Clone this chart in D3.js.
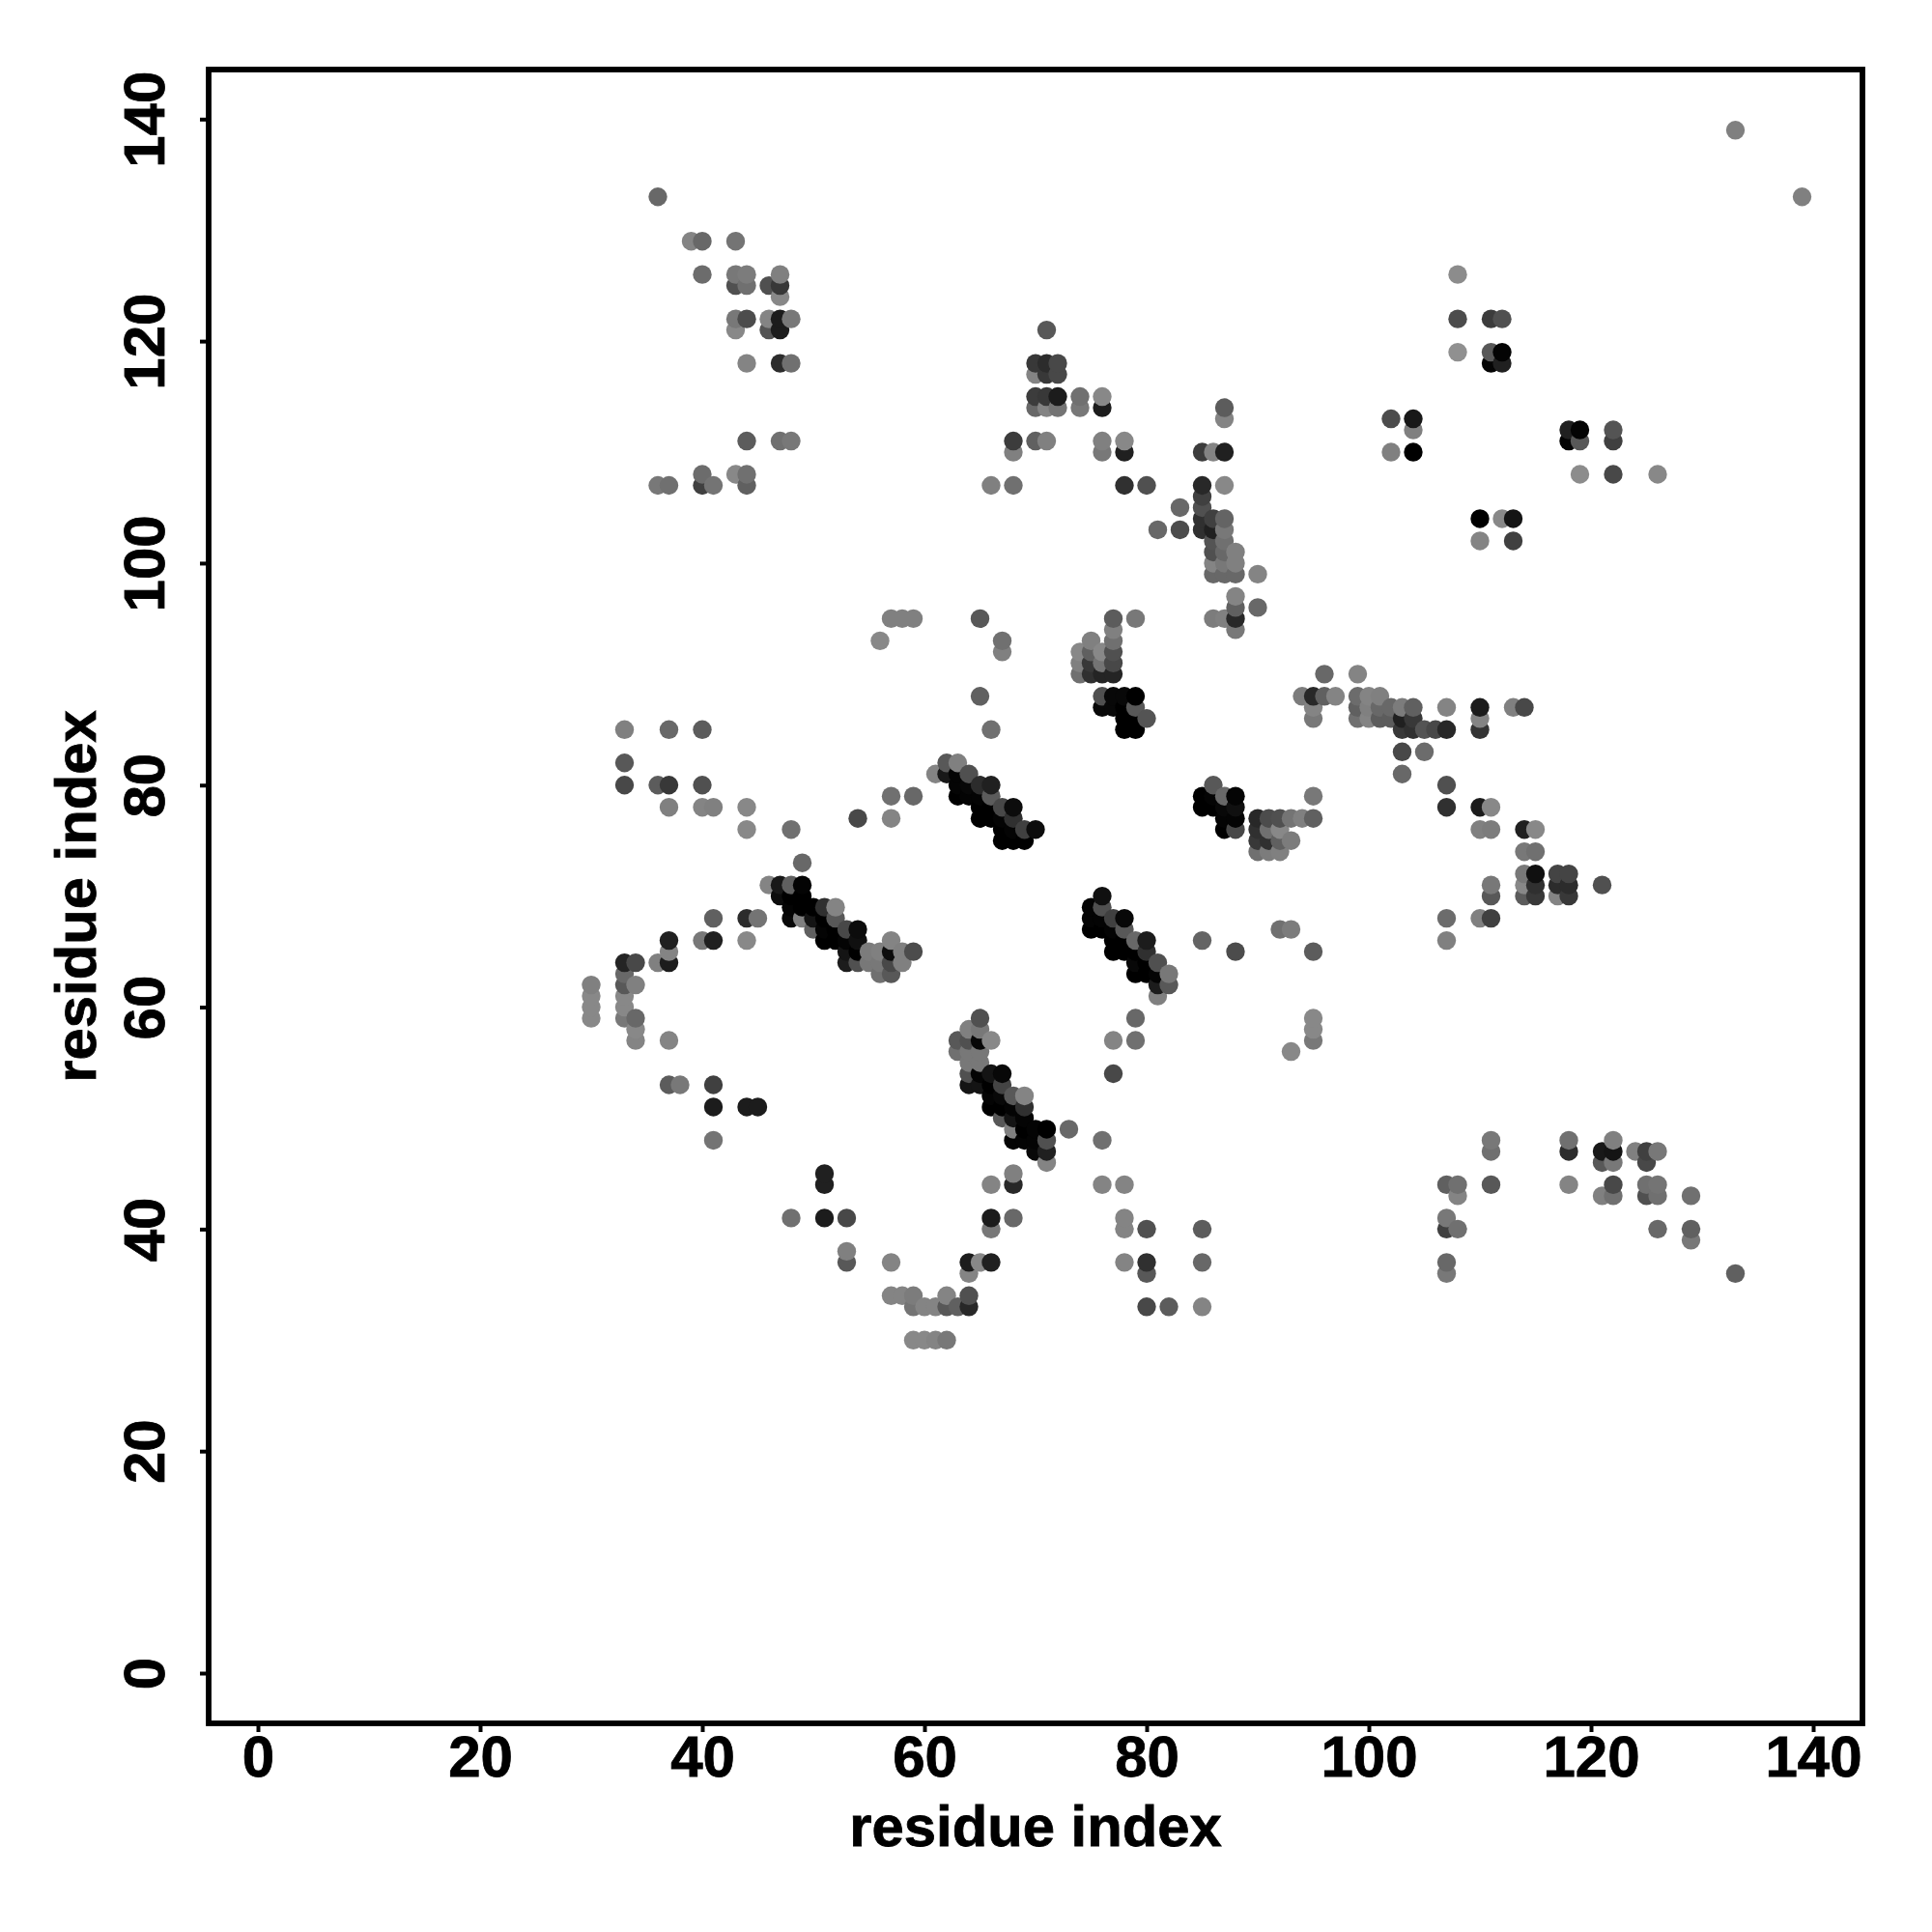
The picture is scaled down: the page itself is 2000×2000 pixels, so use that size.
<!DOCTYPE html>
<html>
<head>
<meta charset="utf-8">
<style>
html,body{margin:0;padding:0;background:#fff}
text{font-family:"Liberation Sans",Arial,sans-serif;font-weight:bold;fill:#000;stroke:#000;stroke-width:0.8px}
</style>
<script src="https://cdn.jsdelivr.net/npm/d3@7"></script>
</head>
<body>
<svg id="chart" width="2000" height="2000"></svg>
<script>
// [residue i, residue j, grey level of the dot]
const xTicks = [0,20,40,60,80,100,120,140];
const yTicks = [0,20,40,60,80,100,120,140];
const axisTitle = "residue index";

const upperLeft = [
[36,133,0x68],[39,129,0x84],[40,129,0x68],[43,129,0x74],[40,126,0x6c],[43,126,0x78],[44,126,0x7c],[43,125,0x50],[44,125,0x70],
[46,125,0x50],[47,125,0x38],[47,126,0x80],[47,124,0x88],[43,122,0x78],[44,122,0x4c],[43,121,0x88],[46,122,0x84],[47,122,0x1c],
[48,122,0x78],[46,121,0x54],[47,121,0x1c],[44,118,0x84],[47,118,0x2c],[48,118,0x70],[44,111,0x5c],[47,111,0x70],[48,111,0x78],
[36,107,0x78],[37,107,0x70],[40,108,0x6c],[40,107,0x40],[41,107,0x74],[43,108,0x88],[44,108,0x70],[44,107,0x60]
];
const upperMiddle = [
[66,107,0x80],[68,107,0x70],[68,111,0x3c],[68,110,0x80],[70,111,0x60],[71,111,0x80],[71,121,0x58],
[70,118,0x38],[71,118,0x2c],[72,118,0x48],[70,117,0x84],[71,117,0x38],[72,117,0x48],
[70,115,0x3c],[71,115,0x38],[72,115,0x1c],[70,114,0x68],[71,114,0x84],[72,114,0x74],[74,115,0x70],[74,114,0x78],[76,115,0x88],[76,114,0x1c],
[87,114,0x5c],[87,113,0x84],[76,111,0x80],[76,110,0x78],[78,111,0x88],[78,110,0x20],[85,110,0x3c],[86,110,0x84],[87,110,0x20],
[78,107,0x30],[80,107,0x50],[85,107,0x28],[87,107,0x88],[85,106,0x40],[83,105,0x68],[85,105,0x50],[85,104,0x30],[86,104,0x40],[87,104,0x64],
[81,103,0x68],[83,103,0x4c],[85,103,0x30],[86,103,0x20],[87,103,0x78],[86,102,0x54],[87,102,0x70],[86,101,0x50],[87,101,0x68],[88,101,0x80],
[86,100,0x84],[87,100,0x78],[88,100,0x80],[86,99,0x68],[87,99,0x68],[88,99,0x68],[90,99,0x84],[88,97,0x84],[88,96,0x60],[90,96,0x68],
[86,95,0x7c],[87,95,0x80],[88,95,0x28],[88,94,0x78]
];
const centreBlock = [
[56,93,0x88],[57,95,0x80],[58,95,0x80],[59,95,0x80],[65,95,0x58],[67,93,0x70],[67,92,0x80],[65,88,0x60],[66,85,0x70],
[77,95,0x5c],[79,95,0x78],[77,94,0x80],[75,93,0x80],[77,93,0x70],[74,92,0x88],[75,92,0x60],[76,92,0x88],[77,92,0x50],
[74,91,0x80],[75,91,0x38],[76,91,0x74],[77,91,0x48],[74,90,0x70],[75,90,0x30],[76,90,0x24],[77,90,0x24],
[76,88,0x50],[77,88,0x08],[78,88,0x08],[79,88,0x00],[76,87,0x08],[77,87,0x08],[78,87,0x00],[79,87,0x58],[78,86,0x00],[79,86,0x00],[80,86,0x54],[78,85,0x00],[79,85,0x00]
];
const rightBand = [
[96,90,0x68],[99,90,0x84],[94,88,0x7c],[95,88,0x28],[96,88,0x60],[97,88,0x84],[95,87,0x84],[95,86,0x78],
[99,88,0x6c],[99,87,0x60],[99,86,0x70],[100,88,0x84],[100,87,0x80],[100,86,0x84],[101,88,0x80],[101,87,0x68],[101,86,0x5c],
[102,87,0x68],[102,86,0x5c],[103,87,0x7c],[103,86,0x20],[103,85,0x38],[104,87,0x60],[104,86,0x38],[104,85,0x30],[105,85,0x54],[106,85,0x48],
[107,85,0x28],[107,87,0x84],[110,87,0x1c],[110,86,0x84],[110,85,0x34],[113,87,0x80],[114,87,0x48],
[103,83,0x48],[105,83,0x6c],[103,81,0x68],[107,80,0x50],[107,78,0x30],[110,78,0x1c],[111,78,0x88],[110,76,0x80],[111,76,0x7c],
[114,76,0x20],[115,76,0x88],[114,74,0x78],[115,74,0x70],[114,72,0x78],[115,72,0x10],[114,71,0x88],[115,71,0x30],[114,70,0x5c],[115,70,0x38],
[117,72,0x44],[118,72,0x44],[117,71,0x2c],[118,71,0x2c],[117,70,0x84],[118,70,0x38],[121,71,0x50],[111,71,0x78],[111,70,0x58],
[107,68,0x6c],[110,68,0x80],[111,68,0x40],[107,66,0x80]
];
const upperRight = [
[108,126,0x8c],[108,122,0x4c],[111,122,0x3c],[112,122,0x50],[108,119,0x90],[111,119,0x58],[112,119,0x04],[111,118,0x04],[112,118,0x20],
[102,113,0x4c],[104,113,0x18],[104,112,0x80],[102,110,0x80],[104,110,0x00],[118,112,0x20],[119,112,0x04],[118,111,0x04],[119,111,0x58],
[122,112,0x54],[122,111,0x40],[119,108,0x8c],[122,108,0x48],[126,108,0x88],[110,104,0x00],[112,104,0x88],[113,104,0x14],[110,102,0x84],[113,102,0x40],
[133,139,0x80],[139,133,0x80]
];
const middleRight = [
[86,80,0x58],[85,79,0x00],[86,79,0x04],[87,79,0x68],[88,79,0x04],[85,78,0x00],[86,78,0x00],[87,78,0x08],[88,78,0x10],[87,77,0x04],[88,77,0x04],[87,76,0x00],[88,76,0x48],
[90,77,0x28],[90,76,0x30],[90,75,0x38],[90,74,0x70],[91,77,0x4c],[91,76,0x70],[91,75,0x30],[91,74,0x7c],[92,77,0x50],[92,76,0x88],[92,75,0x60],[92,74,0x80],
[93,77,0x74],[93,75,0x7c],[94,77,0x80],[95,77,0x60],[95,79,0x78],[85,66,0x64],[92,67,0x70],[93,67,0x7c],[88,65,0x4c],[95,65,0x5c],
[79,59,0x68],[95,59,0x88],[95,58,0x88],[95,57,0x78],[93,56,0x88],[77,57,0x84],[79,57,0x70],[77,54,0x48]
];
const helixC = [
[76,70,0x10],[75,69,0x04],[75,68,0x04],[75,67,0x00],[76,69,0x50],[76,68,0x04],[76,67,0x00],[77,68,0x40],[77,67,0x04],[77,66,0x00],[77,65,0x00],
[78,68,0x08],[78,67,0x58],[78,66,0x00],[78,65,0x00],[79,66,0x68],[79,65,0x00],[79,64,0x08],[79,63,0x00],[80,66,0x1c],[80,65,0x30],[80,64,0x00],[80,63,0x00],
[81,64,0x50],[81,63,0x04],[81,62,0x1c],[81,61,0x80],[82,63,0x78],[82,62,0x58]
];
const leftSide = [
[33,85,0x80],[37,85,0x68],[40,85,0x5c],[33,82,0x58],[33,80,0x48],[36,80,0x5c],[37,80,0x38],[40,80,0x50],[37,78,0x80],[40,78,0x84],[41,78,0x80],[44,78,0x88],[44,76,0x88],[48,76,0x70],
[57,79,0x70],[59,79,0x68],[54,77,0x48],[57,77,0x84],[49,73,0x68],
[41,68,0x60],[44,68,0x2c],[45,68,0x74],[37,66,0x20],[40,66,0x78],[41,66,0x20],[44,66,0x88],[37,65,0x84],[33,64,0x24],[34,64,0x48],[36,64,0x80],[37,64,0x1c],
[33,63,0x68],[30,62,0x80],[33,62,0x58],[34,62,0x80],[30,61,0x88],[33,61,0x88],[30,60,0x88],[33,60,0x88],[30,59,0x88],[33,59,0x78],[34,59,0x68],[34,58,0x88],[34,57,0x84],[37,57,0x84],
[37,53,0x5c],[38,53,0x78],[41,53,0x40],[41,51,0x1c],[44,51,0x1c],[45,51,0x1c],[41,48,0x74]
];
const helixA = [
[46,71,0x84],[47,71,0x18],[48,71,0x60],[49,71,0x04],[47,70,0x0c],[48,70,0x00],[49,70,0x00],[48,69,0x04],[49,69,0x00],[50,69,0x00],[51,69,0x30],[52,69,0x84],
[48,68,0x08],[49,68,0x80],[50,68,0x14],[51,68,0x00],[52,68,0x58],[50,67,0x60],[51,67,0x04],[52,67,0x00],[53,67,0x48],[54,67,0x0c],[51,66,0x00],[52,66,0x00],[53,66,0x04],[54,66,0x10],
[57,66,0x84],[53,65,0x14],[54,65,0x00],[55,65,0x7c],[56,65,0x80],[57,65,0x0c],[58,65,0x80],[59,65,0x4c],[53,64,0x1c],[54,64,0x50],[55,64,0x78],[56,64,0x78],[57,64,0x48],[58,64,0x80],[56,63,0x70],[57,63,0x58]
];
const helixB = [
[62,82,0x58],[63,82,0x80],[61,81,0x84],[62,81,0x18],[63,81,0x04],[64,81,0x50],[63,80,0x04],[64,80,0x08],[65,80,0x2c],[66,80,0x20],[63,79,0x00],[64,79,0x04],[65,79,0x04],[66,79,0x5c],
[65,78,0x00],[66,78,0x00],[67,78,0x48],[68,78,0x0c],[65,77,0x00],[66,77,0x00],[67,77,0x04],[68,77,0x30],[67,76,0x00],[68,76,0x04],[69,76,0x40],[70,76,0x0c],[67,75,0x00],[68,75,0x00],[69,75,0x00]
];
const helixD = [
[65,59,0x50],[64,58,0x80],[65,58,0x78],[63,57,0x58],[64,57,0x50],[65,57,0x08],[66,57,0x88],[63,56,0x70],[64,56,0x78],[65,56,0x78],[64,55,0x78],[65,55,0x78],
[64,54,0x50],[65,54,0x04],[66,54,0x14],[67,54,0x08],[64,53,0x14],[65,53,0x14],[66,53,0x00],[67,53,0x44],[66,52,0x04],[67,52,0x08],[68,52,0x58],[69,52,0x84],
[66,51,0x00],[67,51,0x00],[68,51,0x04],[69,51,0x30],[67,50,0x58],[68,50,0x14],[69,50,0x04],[68,49,0x80],[69,49,0x00],[70,49,0x04],[71,49,0x00],[73,49,0x68],
[68,48,0x04],[69,48,0x04],[70,48,0x04],[71,48,0x50],[76,48,0x70],[70,47,0x08],[71,47,0x20],[71,46,0x84]
];
const lowerMiddle = [
[68,45,0x80],[66,44,0x84],[68,44,0x28],[76,44,0x84],[78,44,0x84],[66,41,0x1c],[68,41,0x68],[78,41,0x84],[66,40,0x78],[78,40,0x84],[80,40,0x50],[85,40,0x5c],
[64,37,0x1c],[65,37,0x88],[66,37,0x20],[78,37,0x84],[80,37,0x30],[85,37,0x68],[64,36,0x84],[80,36,0x58],[80,33,0x48],[82,33,0x5c],[85,33,0x84]
];
const lowerLeft = [
[51,45,0x20],[51,44,0x20],[48,41,0x70],[51,41,0x1c],[53,41,0x48],[53,38,0x80],[53,37,0x58],[57,37,0x84],
[57,34,0x84],[58,34,0x84],[59,34,0x7c],[62,34,0x84],[64,34,0x50],[59,33,0x74],[60,33,0x84],[61,33,0x84],[62,33,0x58],[63,33,0x60],[64,33,0x28],
[59,30,0x88],[60,30,0x88],[61,30,0x84],[62,30,0x78]
];
const lowerRight = [
[111,48,0x78],[118,48,0x70],[122,48,0x80],[111,47,0x70],[118,47,0x2c],[121,47,0x18],[122,47,0x14],[124,47,0x80],[125,47,0x40],[126,47,0x78],[121,46,0x58],[122,46,0x78],[125,46,0x48],
[107,44,0x60],[108,44,0x70],[111,44,0x58],[118,44,0x84],[122,44,0x48],[125,44,0x70],[126,44,0x74],[108,43,0x84],[121,43,0x80],[122,43,0x70],[125,43,0x50],[126,43,0x70],[129,43,0x70],
[107,41,0x78],[107,40,0x40],[108,40,0x70],[126,40,0x68],[129,40,0x60],[129,39,0x78],[107,37,0x68],[107,36,0x78],[133,36,0x60]
];

const contacts = [].concat(upperLeft, upperMiddle, centreBlock, rightBand, upperRight, middleRight,
  helixC, leftSide, helixA, helixB, helixD, lowerMiddle, lowerLeft, lowerRight)
  .map(([i, j, grey]) => ({i, j, grey}))
  .sort((a, b) => d3.ascending(a.i, b.i) || d3.ascending(a.j, b.j));

const svg = d3.select("#chart");
const frame = {left: 216, top: 72, right: 1928, bottom: 1784};
const x = d3.scaleLinear().domain([0, 140]).range([267, 1877]);
const y = d3.scaleLinear().domain([0, 140]).range([1732, 123.3]);
const fontSize = 60;

svg.append("rect").attr("width", 2000).attr("height", 2000).attr("fill", "#fff");

svg.append("g").selectAll("circle").data(contacts).join("circle")
  .attr("cx", d => x(d.i))
  .attr("cy", d => y(d.j))
  .attr("r", 9.7)
  .attr("fill", d => d3.rgb(d.grey, d.grey, d.grey).formatHex());

const xAxis = svg.append("g").attr("transform", `translate(0,${frame.bottom})`)
  .call(d3.axisBottom(x).tickValues(xTicks).tickSizeOuter(0).tickSize(9).tickFormat(d3.format("d")));
xAxis.select(".domain").remove();
xAxis.selectAll(".tick line").attr("stroke", "#000").attr("stroke-width", 4);
xAxis.selectAll(".tick text").attr("y", 55).attr("dy", 0).attr("text-anchor", "middle")
  .style("font-size", fontSize + "px");

const yAxis = svg.append("g").attr("transform", `translate(${frame.left},0)`)
  .call(d3.axisLeft(y).tickValues(yTicks).tickSizeOuter(0).tickSize(9).tickFormat(d3.format("d")));
yAxis.select(".domain").remove();
yAxis.selectAll(".tick line").attr("stroke", "#000").attr("stroke-width", 4);
yAxis.selectAll(".tick text").attr("x", null).attr("dy", 0).attr("text-anchor", "middle")
  .attr("transform", "translate(-46,0) rotate(-90)")
  .style("font-size", fontSize + "px");

svg.append("rect")
  .attr("x", frame.left).attr("y", frame.top)
  .attr("width", frame.right - frame.left).attr("height", frame.bottom - frame.top)
  .attr("fill", "none").attr("stroke", "#000").attr("stroke-width", 5.8);

svg.append("text").attr("x", (frame.left + frame.right) / 2).attr("y", 1911)
  .attr("text-anchor", "middle").style("font-size", "59.8px").text(axisTitle);
svg.append("text")
  .attr("transform", `translate(99,${(frame.top + frame.bottom) / 2}) rotate(-90)`)
  .attr("text-anchor", "middle").style("font-size", "59.8px").text(axisTitle);
</script>
</body>
</html>
